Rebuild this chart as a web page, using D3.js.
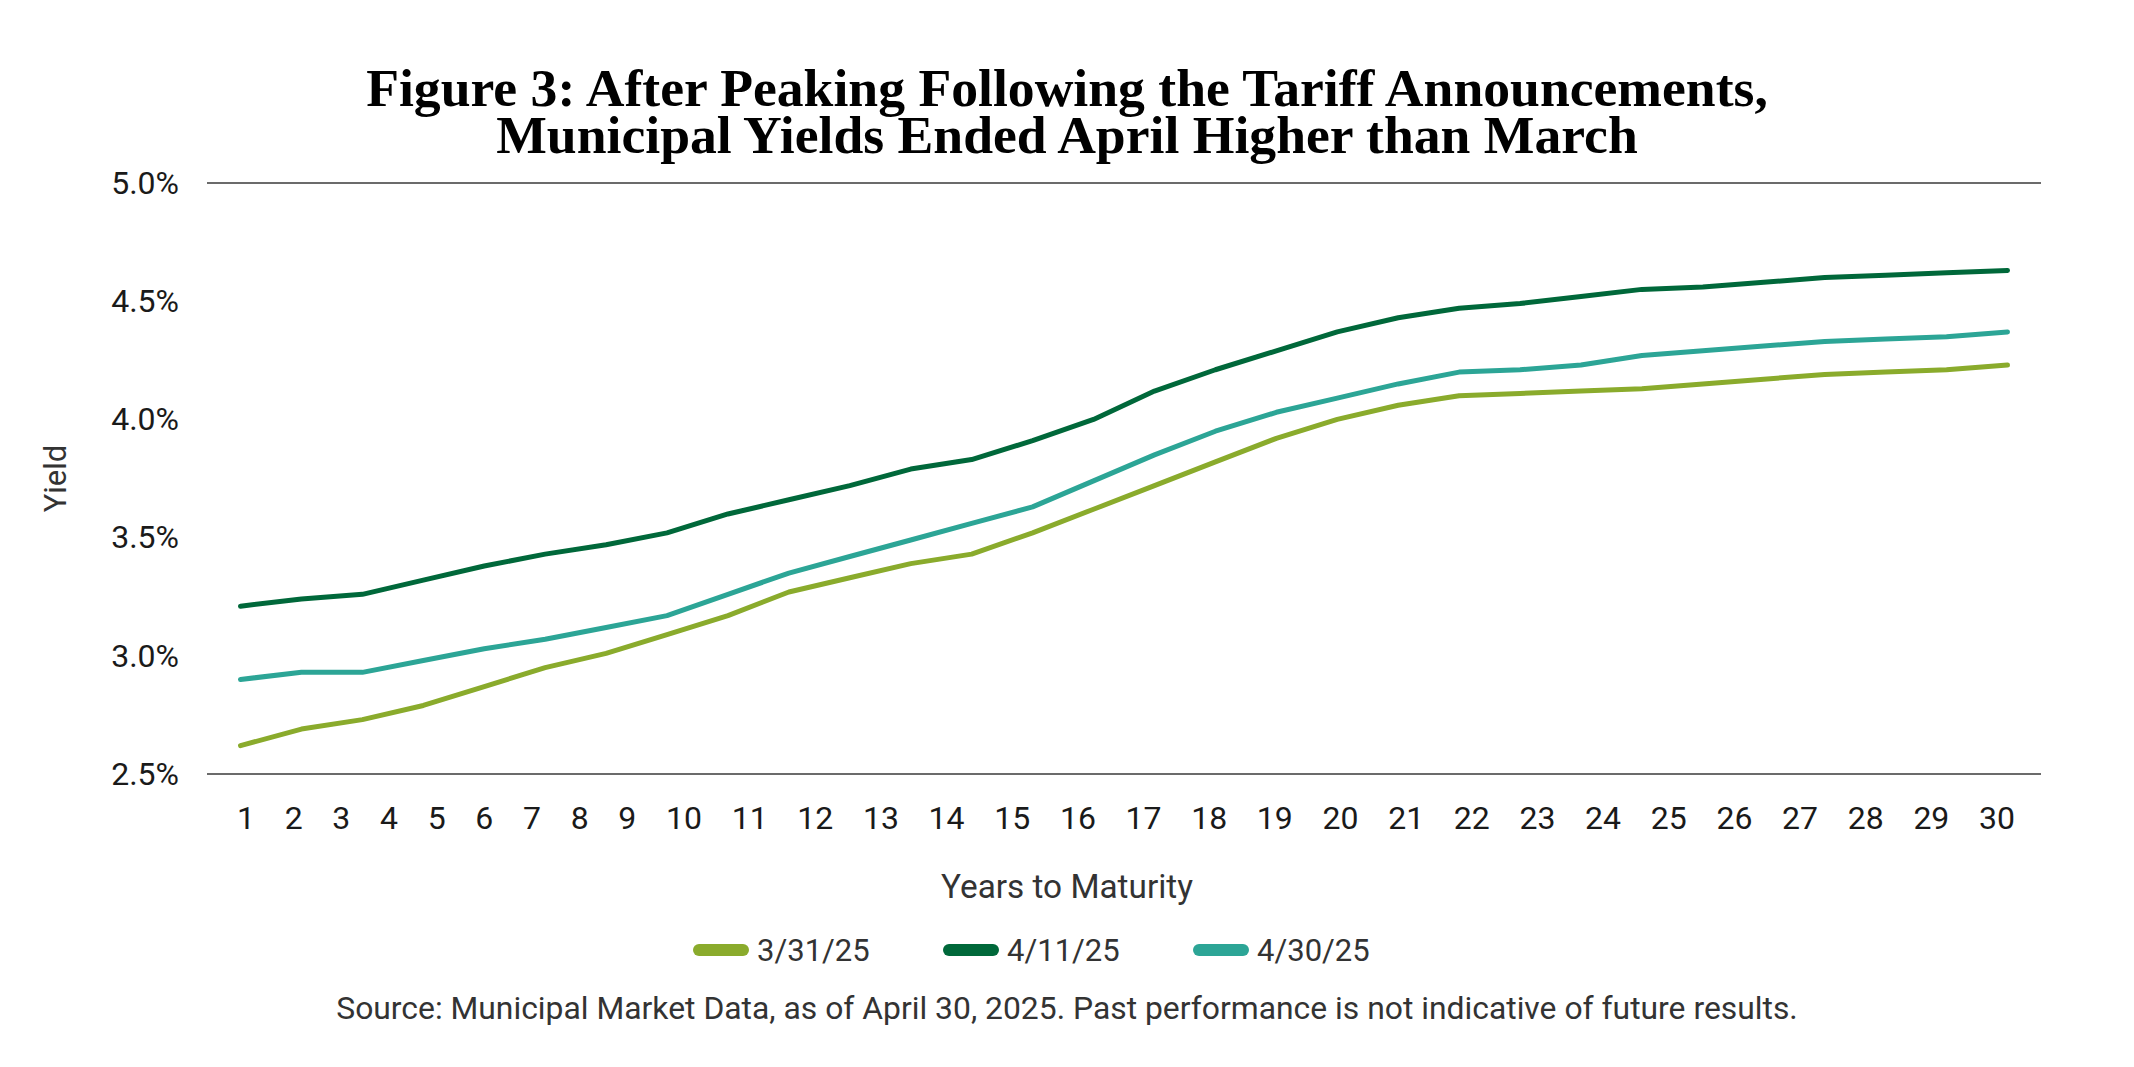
<!DOCTYPE html>
<html>
<head>
<meta charset="utf-8">
<script src="https://cdn.jsdelivr.net/npm/d3@7"></script>
<style>
    body { margin: 0; background: #fff; }
    text { font-family: Roboto, "Noto Sans", sans-serif; }
</style>
</head>
<body>
<svg id="chart" width="2134" height="1067"></svg>
<script>
// years to maturity (x categories)
const years = [1, 2, 3, 4, 5, 6, 7, 8, 9, 10, 11, 12, 13, 14, 15,
    16, 17, 18, 19, 20, 21, 22, 23, 24, 25, 26, 27, 28, 29, 30];

const yieldTicks = [2.5, 3.0, 3.5, 4.0, 4.5, 5.0];

// yields in %
const mar31 = [2.62, 2.69, 2.73, 2.79, 2.87, 2.95, 3.01, 3.09, 3.17, 3.27,
    3.33, 3.39, 3.43, 3.52, 3.62, 3.72, 3.82, 3.92, 4.00, 4.06,
    4.10, 4.11, 4.12, 4.13, 4.15, 4.17, 4.19, 4.20, 4.21, 4.23];
const apr11 = [3.21, 3.24, 3.26, 3.32, 3.38, 3.43, 3.47, 3.52, 3.60, 3.66,
    3.72, 3.79, 3.83, 3.91, 4.00, 4.12, 4.21, 4.29, 4.37, 4.43,
    4.47, 4.49, 4.52, 4.55, 4.56, 4.58, 4.60, 4.61, 4.62, 4.63];
const apr30 = [2.90, 2.93, 2.93, 2.98, 3.03, 3.07, 3.12, 3.17, 3.26, 3.35,
    3.42, 3.49, 3.56, 3.63, 3.74, 3.85, 3.95, 4.03, 4.09, 4.15,
    4.20, 4.21, 4.23, 4.27, 4.29, 4.31, 4.33, 4.34, 4.35, 4.37];

const seriesNames = ["3/31/25", "4/11/25", "4/30/25"];
const seriesColors = ["#8aab2c", "#00683a", "#2ca596"];

const titleLines = [
    "Figure 3: After Peaking Following the Tariff Announcements,",
    "Municipal Yields Ended April Higher than March"
];
const sourceNote = "Source: Municipal Market Data, as of April 30, 2025. Past performance is not indicative of future results.";

const W = 2134, H = 1067;
const margin = { top: 183, right: 93, bottom: 293, left: 207 };
const width = W - margin.left - margin.right;
const height = H - margin.top - margin.bottom;

const svg = d3.select("#chart");

// shrink/grow a text so it spans the given width
function fitWidth(sel, target) {
    const w = sel.node().getComputedTextLength();
    const fs = parseFloat(sel.style("font-size"));
    sel.style("font-size", (fs * target / w) + "px");
}

// title
const titleFont = "'Liberation Serif', 'DejaVu Serif', serif";
const t1 = svg.append("text")
    .attr("x", W / 2).attr("y", 106)
    .attr("text-anchor", "middle")
    .style("font-family", titleFont)
    .style("font-weight", "bold")
    .style("font-size", "48px")
    .style("fill", "#000")
    .text(titleLines[0]);
fitWidth(t1, 1402);
svg.append("text")
    .attr("x", W / 2).attr("y", 153)
    .attr("text-anchor", "middle")
    .style("font-family", titleFont)
    .style("font-weight", "bold")
    .style("font-size", t1.style("font-size"))
    .style("fill", "#000")
    .text(titleLines[1]);

const g = svg.append("g")
    .attr("transform", `translate(${margin.left},${margin.top})`);

const x = d3.scalePoint()
    .domain(years)
    .range([0, width])
    .padding(0.55);

const y = d3.scaleLinear()
    .domain([2.5, 5.0])
    .range([height, 0]);

// top and bottom rules only
g.selectAll(".rule")
    .data([2.5, 5.0])
    .enter()
    .append("line")
    .attr("class", "rule")
    .attr("x1", 0).attr("x2", width)
    .attr("y1", d => y(d)).attr("y2", d => y(d))
    .style("stroke", "#6b6b6b")
    .style("stroke-width", 2.2);

// y axis
const yAxis = g.append("g")
    .call(d3.axisLeft(y)
        .tickValues(yieldTicks)
        .tickFormat(d => d.toFixed(1) + "%")
        .tickSize(0)
        .tickPadding(28));
yAxis.select(".domain").remove();
yAxis.selectAll("text")
    .style("font-family", "Roboto, sans-serif")
    .style("font-size", "32px")
    .style("fill", "#1a1a1a");

// x axis
const xAxis = g.append("g")
    .attr("transform", `translate(0,${height})`)
    .call(d3.axisBottom(x).tickSize(0));
xAxis.select(".domain").remove();
xAxis.selectAll("text")
    .attr("y", 44)
    .attr("dy", "0.35em")
    .style("font-family", "Roboto, sans-serif")
    .style("font-size", "32px")
    .style("fill", "#1a1a1a");

// the labels sit in a row with equal gaps, not on the points
const labelSpan = [30, 1808];
const ticks = xAxis.selectAll(".tick").nodes();
const widths = ticks.map(t => t.querySelector("text").getComputedTextLength());
const gap = (labelSpan[1] - labelSpan[0] - d3.sum(widths)) / (ticks.length - 1);
let cursor = labelSpan[0];
ticks.forEach((t, i) => {
    d3.select(t).attr("transform", `translate(${cursor + widths[i] / 2},0)`);
    cursor += widths[i] + gap;
});

// axis titles
svg.append("text")
    .attr("transform", `translate(55,${margin.top + height / 2}) rotate(-90)`)
    .attr("text-anchor", "middle")
    .attr("dy", "0.35em")
    .style("font-size", "31px")
    .style("fill", "#333")
    .text("Yield");

const xTitle = svg.append("text")
    .attr("x", W / 2).attr("y", 886)
    .attr("text-anchor", "middle")
    .attr("dy", "0.35em")
    .style("font-size", "32px")
    .style("fill", "#333")
    .text("Years to Maturity");
fitWidth(xTitle, 252);

// lines
const series = [mar31, apr11, apr30].map((vals, i) => ({
    name: seriesNames[i],
    color: seriesColors[i],
    values: vals.map((v, j) => ({ year: years[j], value: v }))
}));

const line = d3.line()
    .x(d => x(d.year))
    .y(d => y(d.value));

g.selectAll(".series")
    .data(series)
    .enter()
    .append("path")
    .attr("class", "series")
    .attr("d", d => line(d.values))
    .style("fill", "none")
    .style("stroke", d => d.color)
    .style("stroke-width", 5)
    .style("stroke-linecap", "round")
    .style("stroke-linejoin", "round");

// legend
const legend = svg.append("g")
    .attr("transform", "translate(693,950)");
const item = legend.selectAll(".item")
    .data(series)
    .enter()
    .append("g")
    .attr("class", "item")
    .attr("transform", (d, i) => `translate(${i * 250},0)`);
item.append("line")
    .attr("x1", 6).attr("x2", 50)
    .attr("y1", 0).attr("y2", 0)
    .style("stroke", d => d.color)
    .style("stroke-width", 12)
    .style("stroke-linecap", "round");
item.append("text")
    .attr("x", 64)
    .attr("dy", "0.35em")
    .style("font-size", "31px")
    .style("fill", "#333")
    .text(d => d.name);

// source
const src = svg.append("text")
    .attr("x", W / 2).attr("y", 1008)
    .attr("text-anchor", "middle")
    .attr("dy", "0.35em")
    .style("font-size", "30px")
    .style("fill", "#333")
    .text(sourceNote);
fitWidth(src, 1462);
</script>
</body>
</html>
